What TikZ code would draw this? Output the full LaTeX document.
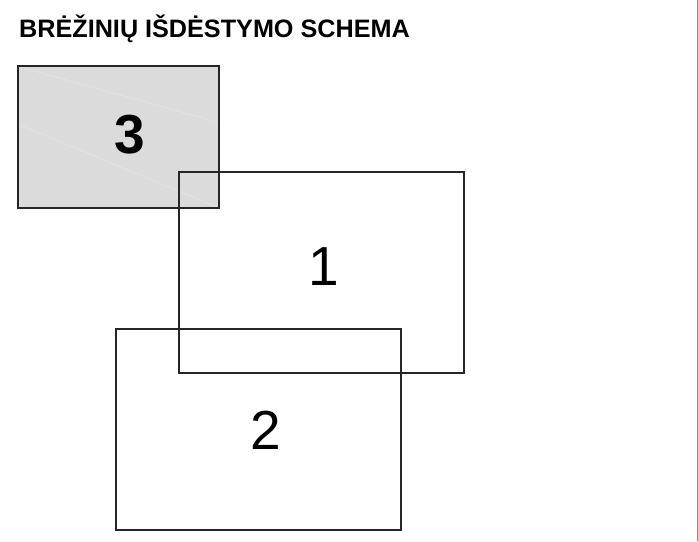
\documentclass[tikz,border=0pt]{standalone}
\usepackage{fontspec}
\setmainfont{Liberation Sans}
\begin{document}
\begin{tikzpicture}[x=1pt,y=-1pt,
  sheet/.style={draw=black!85,line width=1.1pt},
  biglabel/.style={inner sep=0pt,font=\fontsize{55}{60}\selectfont},
  title/.style={inner sep=0pt,font=\fontsize{25.2}{28}\selectfont\bfseries}]
\useasboundingbox[fill=white] (0,0) rectangle (698,541);
\draw[black!45,line width=1pt] (697,0) -- (697,541);
\node[title,anchor=base west] (ttl) at (19,37.5) {BRĖŽINIŲ IŠDĖSTYMO SCHEMA};
% sheet 3 (shaded)
\path[fill=black!14] (18,66) rectangle (219,208);
\draw[black!9,line width=0.4pt] (20,67) -- (217,122) (18,124) -- (219,124) (20,125) -- (217,207);
\draw[sheet] (18,66) rectangle (219,208);
\node[biglabel,font=\fontsize{55}{60}\selectfont\bfseries] (n3) at (130,135) {3};
% sheet 1
\draw[sheet] (179,172) rectangle (464,373);
\node[biglabel] (n1) at (324,267) {1};
% sheet 2
\draw[sheet] (116,329) rectangle (401,530);
\node[biglabel] (n2) at (266,430) {2};
\end{tikzpicture}
\end{document}
